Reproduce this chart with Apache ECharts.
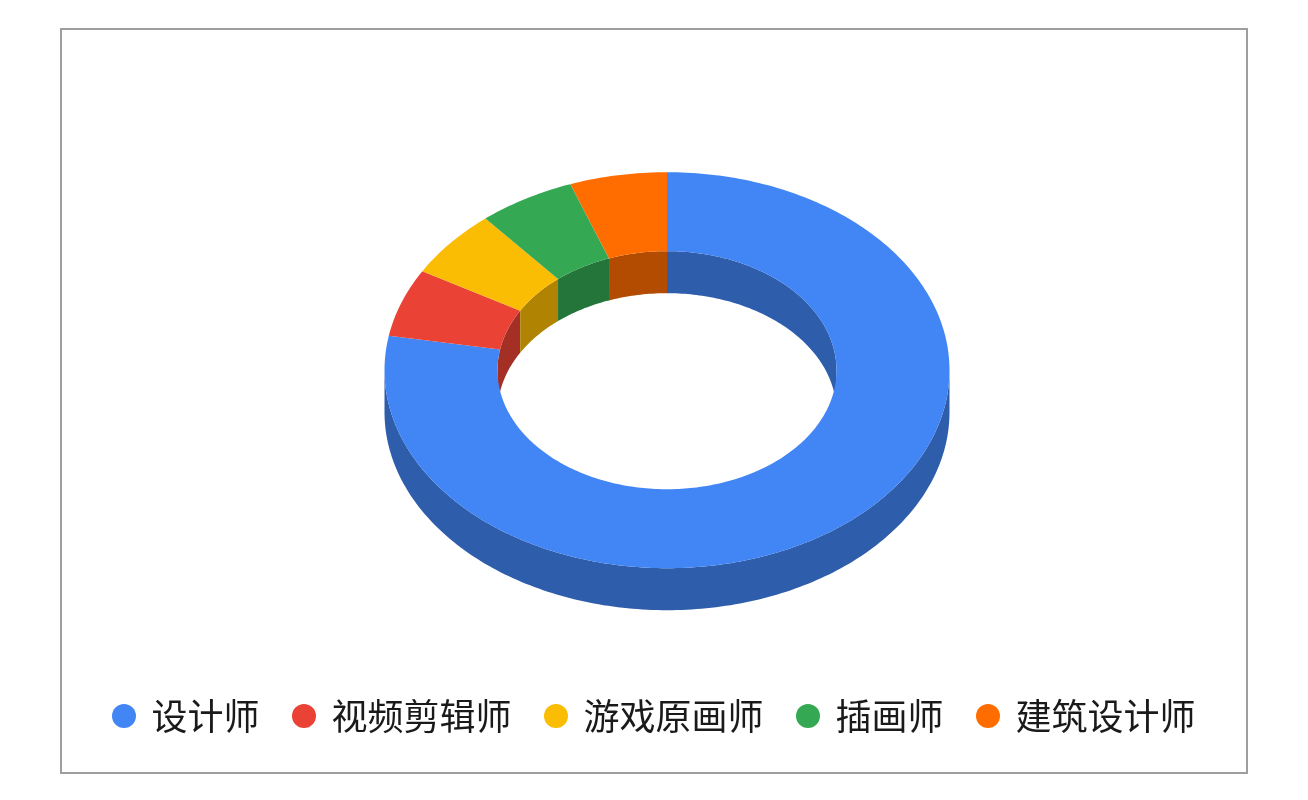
<!DOCTYPE html>
<html>
<head>
<meta charset="utf-8">
<style>html,body{margin:0;padding:0;background:#fff}#c{width:1308px;height:800px}</style>
<script src="https://cdn.jsdelivr.net/npm/echarts@6/dist/echarts.min.js"></script>
</head>
<body>
<div id="c"></div>
<script>
const categories = ['设计师', '视频剪辑师', '游戏原画师', '插画师', '建筑设计师'];
const values = [14, 1, 1, 1, 1];
const colors = ['#4285F4', '#EA4335', '#FBBC04', '#34A853', '#FF6D01'];
const wallColors = ['#2E5DAB', '#A32F25', '#B08303', '#24753A', '#B34C01'];

const CX = 667, CY = 370.2, RX = 282.5, RY = 198, IRX = 169.5, IRY = 119, DEPTH = 42;
const total = values.reduce((a, b) => a + b, 0);
const starts = [];
values.reduce((acc, v, i) => { starts[i] = acc; return acc + v; }, 0);
const toDeg = v => v / total * 360;

function arc(rx, ry, a0, a1, dy) {
  const pts = [];
  const n = Math.max(2, Math.ceil(Math.abs(a1 - a0)));
  for (let k = 0; k <= n; k++) {
    const t = (a0 + (a1 - a0) * k / n) * Math.PI / 180;
    pts.push([CX + rx * Math.sin(t), CY + dy - ry * Math.cos(t)]);
  }
  return pts;
}
function poly(points, fill, z2) {
  return { type: 'polygon', z2: z2, shape: { points: points }, style: { fill: fill, stroke: null }, silent: true };
}
function wallStrip(rx, ry, a0, a1, fill, z2) {
  return poly(arc(rx, ry, a0, a1, 0).concat(arc(rx, ry, a1, a0, DEPTH)), fill, z2);
}
function sliceRenderer(i) {
  return function (params, api) {
    const a0 = toDeg(starts[i]);
    const a1 = a0 + toDeg(api.value(0));
    const children = [];
    // outer wall: near half of the ring
    const o0 = Math.max(a0, 90), o1 = Math.min(a1, 270);
    if (o1 > o0) children.push(wallStrip(RX, RY, o0, o1, wallColors[i], 1));
    // inner wall: far half of the hole
    if (i === 0) {
      children.push(wallStrip(IRX, IRY, a0, 90, wallColors[i], 2));
    } else {
      children.push(wallStrip(IRX, IRY, i === 1 ? 270 : Math.max(a0, 270), a1, wallColors[i], 2));
    }
    // top face
    children.push(poly(arc(RX, RY, a0, a1, 0).concat(arc(IRX, IRY, a1, a0, 0)), colors[i], 3));
    return { type: 'group', children: children };
  };
}

const chart = echarts.init(document.getElementById('c'), null, { renderer: 'canvas' });
chart.setOption({
  animation: false,
  backgroundColor: '#fff',
  graphic: [{
    type: 'rect', silent: true, z: -1,
    shape: { x: 61, y: 29, width: 1186, height: 744 },
    style: { fill: '#fff', stroke: '#9E9E9E', lineWidth: 2 }
  }],
  legend: {
    left: 107, top: 687, padding: 5,
    icon: 'circle', itemWidth: 24, itemHeight: 24, itemGap: 32.4,
    data: categories,
    textStyle: { fontFamily: '"Noto Sans CJK SC"', fontSize: 36, color: '#1A1A1A', padding: [0, 0, 0, 10.6], lineHeight: 48 }
  },
  series: categories.map((name, i) => ({
    type: 'custom',
    name: name,
    coordinateSystem: 'none',
    itemStyle: { color: colors[i] },
    renderItem: sliceRenderer(i),
    data: [[values[i]]]
  }))
});
</script>
</body>
</html>
